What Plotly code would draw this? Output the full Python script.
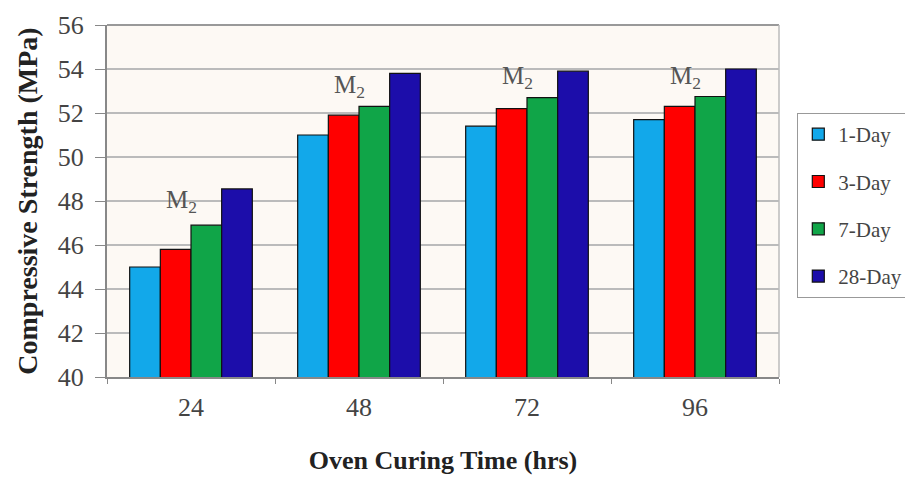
import plotly.graph_objects as go

# Oven curing time groups (hrs)
curing_hours = ["24", "48", "72", "96"]

# Compressive strength (MPa) at each test age
day1 = [45.0, 51.0, 51.4, 51.7]
day3 = [45.8, 51.9, 52.2, 52.3]
day7 = [46.9, 52.3, 52.7, 52.75]
day28 = [48.55, 53.8, 53.9, 54.0]

series_names = ["1-Day", "3-Day", "7-Day", "28-Day"]
series_values = [day1, day3, day7, day28]
series_colors = ["#12A8EA", "#FF0000", "#10A548", "#1C0DAA"]

# Height of the mix label above each group
mix_label = "M<sub>2</sub>"
mix_label_y = [48.0, 53.2, 53.6, 53.6]

serif = "Liberation Serif, Times New Roman, serif"

fig = go.Figure()
for i, (name, vals, col) in enumerate(zip(series_names, series_values, series_colors)):
    fig.add_trace(go.Bar(
        x=curing_hours, y=vals, name=name,
        marker=dict(color=col, line=dict(color="#111111", width=1.2)),
        legendgroup=f"g{i}",
    ))

# category axes place annotations by category index
for idx, ly in enumerate(mix_label_y):
    fig.add_annotation(
        x=idx, y=ly, text=mix_label, showarrow=False, xshift=-10,
        font=dict(family=serif, size=25, color="#555555"),
    )

fig.update_layout(
    width=905, height=477,
    margin=dict(l=107, r=126, t=25, b=100, autoexpand=False),
    paper_bgcolor="white",
    plot_bgcolor="#FDF9F4",
    barmode="group",
    bargap=0.27,
    bargroupgap=0,
    font=dict(family=serif, color="#444444"),
    legend=dict(
        xref="container", yref="container",
        x=0.881, y=0.763, xanchor="left", yanchor="top",
        font=dict(family=serif, size=21, color="#444444"),
        bordercolor="#999999", borderwidth=1, bgcolor="white",
        tracegroupgap=17, itemwidth=30,
    ),
    showlegend=True,
)

fig.update_xaxes(
    type="category", automargin=False,
    showline=True, linecolor="#888888", linewidth=2,
    ticks="outside", tickson="boundaries", ticklen=5, tickcolor="#888888",
    ticklabelstandoff=6,
    tickfont=dict(family=serif, size=26, color="#444444"),
    title=dict(text="<b>Oven Curing Time (hrs)</b>",
               font=dict(family=serif, size=26, color="#222222"), standoff=30),
)
fig.update_yaxes(
    range=[40, 56], dtick=2, automargin=False,
    showline=True, linecolor="#888888", linewidth=2,
    ticks="outside", ticklen=10, tickcolor="#888888",
    ticklabelstandoff=6,
    showgrid=True, gridcolor="#BBBBBB", gridwidth=1.5,
    tickfont=dict(family=serif, size=26, color="#444444"),
    title=dict(text="<b>Compressive Strength (MPa)</b>",
               font=dict(family=serif, size=28, color="#222222"), standoff=12),
)

# Plot-area frame on top and right
fig.add_shape(type="line", xref="paper", yref="paper", x0=0, x1=1, y0=1, y1=1,
              line=dict(color="#999999", width=2))
fig.add_shape(type="line", xref="paper", yref="paper", x0=1, x1=1, y0=0, y1=1,
              line=dict(color="#BBBBBB", width=1.5))

fig.write_html("out.html")
